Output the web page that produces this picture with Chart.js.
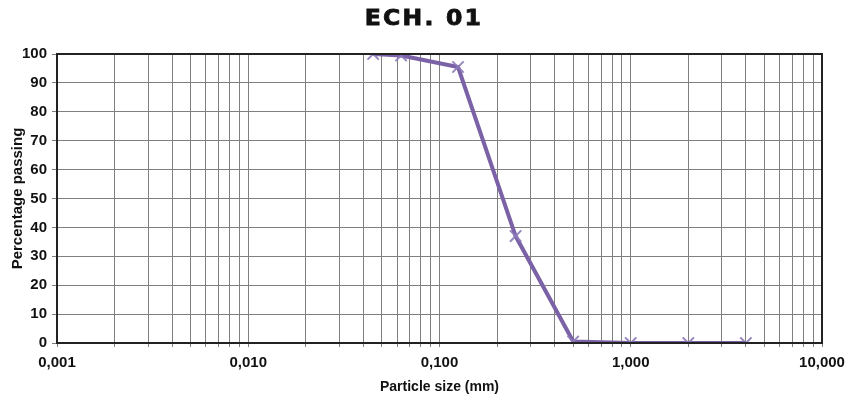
<!DOCTYPE html>
<html>
<head>
<meta charset="utf-8">
<script src="https://cdn.jsdelivr.net/npm/chart.js@4/dist/chart.umd.min.js"></script>
<style>
  html, body { margin: 0; padding: 0; background: #fff; }
  #wrap { position: relative; width: 847px; height: 406px; }
  #title {
    position: absolute; left: 0; top: 6px; width: 847px; text-align: center;
    font-family: "DejaVu Sans", sans-serif; font-weight: 900; font-size: 21px;
    letter-spacing: 2px; color: #111; -webkit-text-stroke: 0.8px #111;
  }
  #title span { display: inline-block; transform: scaleX(1.12); }
  canvas { position: absolute; left: 0; top: 0; }
</style>
</head>
<body>
<div id="wrap">
  <canvas id="c" width="847" height="406"></canvas>
  <div id="title"><span>ECH. 01</span></div>
</div>
<script>
// Sieve sizes (mm) and cumulative percentage passing
const sizes = [0.045, 0.063, 0.125, 0.25, 0.5, 1, 2, 4];
const passing = [100, 99.5, 95.5, 37, 0.5, 0, 0, 0];
// Decade labels along the log axis
const decadeValues = [0.001, 0.01, 0.1, 1, 10];
const decadeLabels = ["0,001", "0,010", "0,100", "1,000", "10,000"];
const yTicks = [0, 10, 20, 30, 40, 50, 60, 70, 80, 90, 100];

const tickFont = { family: "'Liberation Sans', Arial, sans-serif", size: 15, weight: "bold" };

new Chart(document.getElementById("c"), {
  type: "line",
  data: {
    datasets: [{
      data: sizes.map((s, i) => ({ x: s, y: passing[i] })),
      borderColor: "#7b62a6",
      borderWidth: 4,
      tension: 0,
      pointStyle: "crossRot",
      pointRadius: 8,
      pointHoverRadius: 8,
      pointBorderColor: "rgba(140,122,185,0.9)",
      pointBorderWidth: 2,
      pointBackgroundColor: "rgba(140,122,185,0.9)"
    }]
  },
  options: {
    responsive: false,
    animation: false,
    events: [],
    layout: { padding: { top: 54, right: 25, left: 0, bottom: 0 } },
    plugins: { legend: { display: false }, tooltip: { enabled: false }, title: { display: false } },
    scales: {
      x: {
        type: "logarithmic",
        min: 0.001,
        max: 10,
        afterBuildTicks: (scale) => {
          const t = [];
          for (let e = -3; e < 1; e++) {
            for (let m = 1; m <= 9; m++) t.push({ value: m * Math.pow(10, e) });
          }
          t.push({ value: 10 });
          scale.ticks = t;
        },
        afterFit: (scale) => {
          scale.height = 63;
          scale.paddingLeft = 0;
          scale.paddingRight = 0;
        },
        ticks: {
          autoSkip: false,
          maxRotation: 0,
          minRotation: 0,
          color: "#111",
          font: tickFont,
          padding: 7,
          callback: function (v) {
            const i = decadeValues.findIndex(d => Math.abs(d - v) / d < 1e-6);
            return i >= 0 ? decadeLabels[i] : "";
          }
        },
        grid: { color: "#808080", lineWidth: 1, tickLength: 4, tickColor: "#808080" },
        border: { color: "#222", width: 2 },
        title: {
          display: true,
          text: "Particle size (mm)",
          color: "#111",
          font: { family: "'Liberation Sans', Arial, sans-serif", size: 14, weight: "bold" },
          padding: { top: 10, bottom: 10 }
        }
      },
      y: {
        min: 0,
        max: 100,
        afterBuildTicks: (scale) => { scale.ticks = yTicks.map(v => ({ value: v })); },
        afterFit: (scale) => { scale.width = 57; },
        ticks: { color: "#111", font: tickFont, padding: 5 },
        grid: { color: "#808080", lineWidth: 1, tickLength: 5, tickColor: "#808080" },
        border: { color: "#222", width: 2 },
        title: {
          display: true,
          text: "Percentage passing",
          color: "#111",
          font: tickFont,
          padding: { top: 9, bottom: 0 }
        }
      }
    }
  },
  plugins: [{
    id: "frame",
    afterDraw(chart) {
      const { ctx, chartArea: a } = chart;
      ctx.save();
      ctx.strokeStyle = "#222";
      ctx.lineWidth = 2;
      ctx.strokeRect(a.left, a.top, a.right - a.left, a.bottom - a.top);
      ctx.restore();
    }
  }]
});
</script>
</body>
</html>
